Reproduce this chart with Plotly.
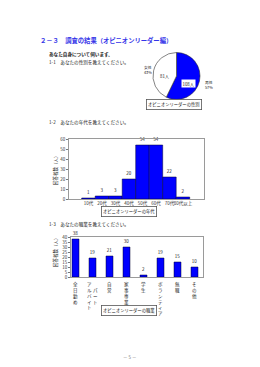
import plotly.graph_objects as go

W, H = 260, 367
FONT = "Noto Sans CJK JP"

# ---- data ----
gender_labels = ["男性", "女性"]
gender_values = [108, 81]

age_labels = ["10代", "20代", "30代", "40代", "50代", "60代", "70代", "80代以上"]
age_values = [1, 3, 3, 20, 54, 54, 22, 2]

job_labels = ["全日勤め", "アルバイト・パート", "自営", "家事専業", "学生", "ボランティア", "無職", "その他"]
job_values = [38, 19, 21, 30, 2, 19, 15, 10]
# vertical label columns as printed (left column first)
job_label_cols = [["全日勤め"], ["アルバイト", "　パート"], ["自営"], ["家事専業"], ["学生"],
                  ["ボランティア"], ["無職"], ["その他"]]

def px(x):
    return x / W

def py(y):
    return 1 - y / H

fig = go.Figure()

# ---- pie ----
fig.add_trace(go.Pie(
    labels=gender_labels, values=gender_values, sort=False, direction="clockwise", rotation=0,
    marker=dict(colors=["#0000FF", "#FFFFFF"], line=dict(color="#333333", width=0.6)),
    textinfo="none", hoverinfo="skip", showlegend=False,
    domain=dict(x=[px(153), px(200)], y=[py(99.5), py(52.5)]),
))

# ---- age bars ----
age_x = list(range(len(age_labels)))
fig.add_trace(go.Bar(
    x=age_x, y=age_values, xaxis="x", yaxis="y", width=1.0,
    marker=dict(color="#0000FF", line=dict(color="#000033", width=0.5)),
    text=[str(v) for v in age_values], textposition="outside", cliponaxis=False,
    textfont=dict(size=4.5, color="#222222", family=FONT), showlegend=False,
))

# ---- job bars ----
job_x = list(range(len(job_labels)))
fig.add_trace(go.Bar(
    x=job_x, y=job_values, xaxis="x2", yaxis="y2", width=0.41,
    marker=dict(color="#0000FF", line=dict(color="#000033", width=0.5)),
    text=[str(v) for v in job_values], textposition="outside", cliponaxis=False,
    textfont=dict(size=4.5, color="#222222", family=FONT), showlegend=False,
    hovertext=job_labels,
))

def axis_common():
    return dict(showline=True, mirror=True, linecolor="#9a9a9a", linewidth=0.8,
                showgrid=False, zeroline=False,
                tickfont=dict(size=4.5, family=FONT, color="#333333"))

fig.update_layout(
    width=W, height=H, margin=dict(l=0, r=0, t=0, b=0, autoexpand=False),
    paper_bgcolor="white", plot_bgcolor="white",
    font=dict(family=FONT, color="#222222"),
    xaxis=dict(domain=[px(69), px(204)], anchor="y", range=[-1.44, 8.56], ticks="",
               tickmode="array", tickvals=age_x, ticktext=age_labels, tickangle=0,
               automargin=False, **axis_common()),
    yaxis=dict(domain=[py(199), py(139)], anchor="x", range=[0, 60], dtick=10,
               ticks="outside", ticklen=2, tickcolor="#777777", automargin=False, **axis_common()),
    xaxis2=dict(domain=[px(71), px(203)], anchor="y2", range=[-0.265, 7.5], ticks="",
                showticklabels=False, automargin=False, **axis_common()),
    yaxis2=dict(domain=[py(277), py(237)], anchor="x2", range=[0, 40], dtick=5,
                ticks="outside", ticklen=2, tickcolor="#777777", automargin=False, **axis_common()),
)

ann = []

def text(x, y, s, size=4.5, color="#222222", xanchor="left", **kw):
    ann.append(dict(x=px(x), y=py(y), xref="paper", yref="paper", text=s, showarrow=False,
                    xanchor=xanchor, yanchor="middle", font=dict(size=size, color=color, family=FONT), **kw))

# header texts
text(38, 40.5, "<b>２－３　調査の結果（オピニオンリーダー編）</b>", size=6.3, color="#3535E8")
text(47, 54.5, "<b>あなた自身について伺います。</b>", size=4.6)
text(47, 62, "1-1　あなたの性別を教えてください。", size=4.6)
text(47, 122, "1-2　あなたの年代を教えてください。", size=4.6)
text(47, 224, "1-3　あなたの職業を教えてください。", size=4.6)
text(130, 357, "－ 5 －", size=4.5, color="#777777", xanchor="center")

# pie labels
total = sum(gender_values)
pct = [round(100 * v / total) for v in gender_values]
text(203, 84.5, f"{gender_labels[0]}<br>{pct[0]}%", size=3.8, xanchor="left")
text(147.5, 70, f"{gender_labels[1]}<br>{pct[1]}%", size=3.8, xanchor="center")
text(165, 76, f"{gender_values[1]}人", size=4.3, xanchor="center")
text(188, 83, f"{gender_values[0]}人", size=4.3, xanchor="center", bgcolor="white", borderpad=0.5)

# caption boxes
for cx, cy, s in [(174, 104.5, "オピニオンリーダーの性別"), (128.5, 211.5, "オピニオンリーダーの年代"),
                  (128.5, 310, "オピニオンリーダーの職業")]:
    text(cx, cy, s, size=4.3, xanchor="center", bordercolor="#555555", borderwidth=0.8,
         borderpad=1.2, bgcolor="white")

# y-axis titles
text(55, 169, "回答者数（人）", size=4.5, xanchor="center", textangle=-90)
text(55, 251, "回答者数（人）", size=4.5, xanchor="center", textangle=-90)

# job vertical category labels
for i, cols in enumerate(job_label_cols):
    n = len(cols)
    for j, col in enumerate(cols):
        off = (j - (n - 1) / 2) * 0.36
        ann.append(dict(x=job_x[i] + off, y=py(278.5), xref="x2", yref="paper",
                        text="<br>".join(list(col)), showarrow=False,
                        xanchor="center", yanchor="top",
                        font=dict(size=4.5, color="#222222", family=FONT)))

fig.update_layout(annotations=ann)
fig.write_html("out.html")
